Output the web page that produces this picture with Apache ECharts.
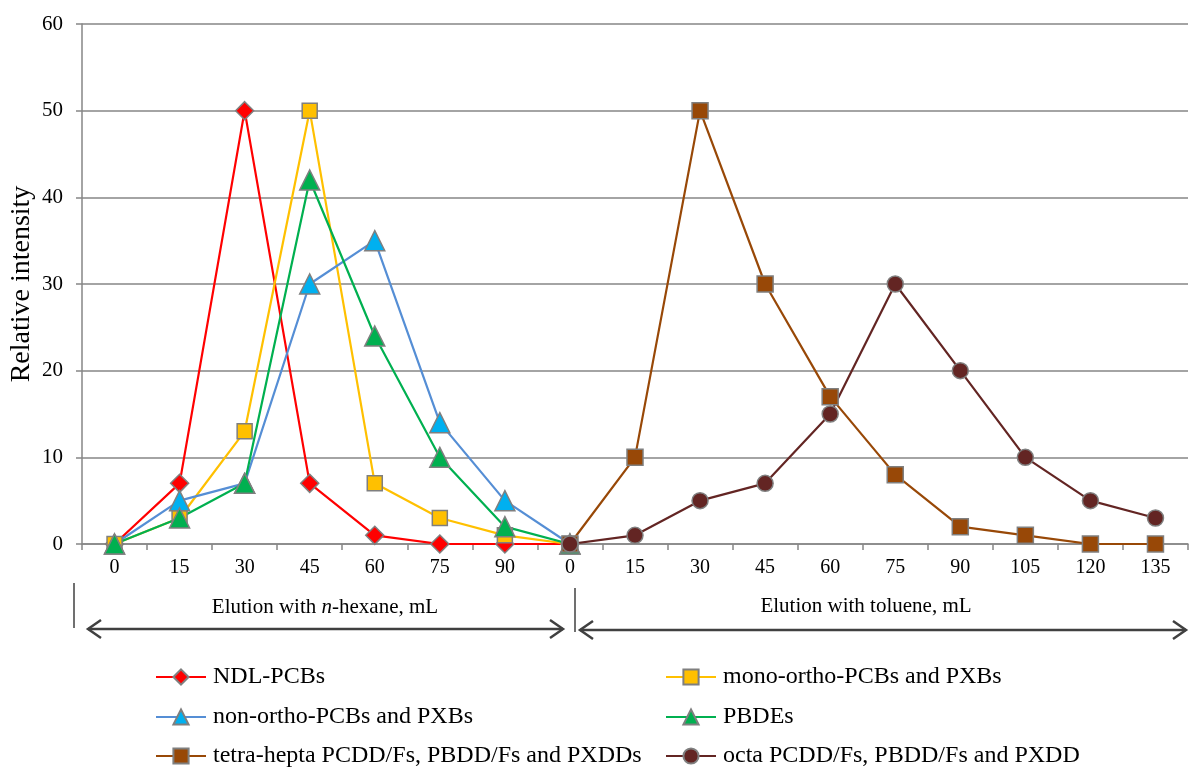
<!DOCTYPE html>
<html>
<head>
<meta charset="utf-8">
<script src="https://cdn.jsdelivr.net/npm/echarts@6/dist/echarts.min.js"></script>
<style>html,body{margin:0;padding:0;background:#fff;}#c{width:1189px;height:767px;}</style>
</head>
<body>
<div id="c"></div>
<script>
var categories = ['0','15','30','45','60','75','90','0','15','30','45','60','75','90','105','120','135'];
var ndlPCBs     = [0, 7, 50, 7, 1, 0, 0, 0, null, null, null, null, null, null, null, null, null];
var monoOrtho   = [0, 3, 13, 50, 7, 3, 1, 0, null, null, null, null, null, null, null, null, null];
var nonOrtho    = [0, 5, 7, 30, 35, 14, 5, 0, null, null, null, null, null, null, null, null, null];
var pbdes       = [0, 3, 7, 42, 24, 10, 2, 0, null, null, null, null, null, null, null, null, null];
var tetraHepta  = [null, null, null, null, null, null, null, 0, 10, 50, 30, 17, 8, 2, 1, 0, 0];
var octa        = [null, null, null, null, null, null, null, 0, 1, 5, 7, 15, 30, 20, 10, 5, 3];
var yTicks = {min: 0, max: 60, interval: 10};
var seriesNames = ['NDL-PCBs', 'mono-ortho-PCBs and PXBs', 'non-ortho-PCBs and PXBs', 'PBDEs',
                   'tetra-hepta PCDD/Fs, PBDD/Fs and PXDDs', 'octa PCDD/Fs, PBDD/Fs and PXDD'];

var chart = echarts.init(document.getElementById('c'));
var FONT = '"Liberation Serif", "DejaVu Serif", serif';
var GREY = '#868686';
var border = {borderColor: '#7f7f7f', borderWidth: 1.5};

function mk(name, data, lineColor, fill, symbol, size) {
  return {
    name: name, type: 'line', data: data, symbol: symbol, symbolSize: size,
    showAllSymbol: true, connectNulls: false,
    lineStyle: {color: lineColor, width: 2.2},
    itemStyle: Object.assign({color: fill}, border),
    emphasis: {disabled: true}
  };
}

// legend layout: [name, left, top]
var legendPos = [
  [seriesNames[0], 155, 665], [seriesNames[2], 155, 705], [seriesNames[4], 155, 744],
  [seriesNames[1], 665, 665], [seriesNames[3], 665, 705], [seriesNames[5], 665, 744]
];
var legends = legendPos.map(function (p) {
  return {
    orient: 'horizontal', left: p[1], top: p[2], padding: 0,
    itemWidth: 50, itemHeight: 19, itemGap: 0,
    textStyle: {fontFamily: FONT, fontSize: 24, color: '#000', padding: [0, 0, 0, 2]},
    data: [p[0]]
  };
});

var option = {
  animation: false,
  backgroundColor: '#fff',
  grid: {left: 82, right: 1, top: 24, bottom: 223, outerBoundsMode: 'none', containLabel: false},
  xAxis: {
    type: 'category', data: categories, boundaryGap: true,
    axisLine: {lineStyle: {color: GREY, width: 1.5}},
    axisTick: {show: true, length: 6, lineStyle: {color: GREY, width: 1.5}},
    axisLabel: {fontFamily: FONT, fontSize: 20, color: '#000', margin: 14, interval: 0}
  },
  yAxis: {
    type: 'value', min: yTicks.min, max: yTicks.max, interval: yTicks.interval,
    name: 'Relative intensity', nameLocation: 'middle', nameGap: 46, nameMoveOverlap: false,
    nameTextStyle: {fontFamily: FONT, fontSize: 28, color: '#000'},
    axisLine: {show: true, lineStyle: {color: GREY, width: 1.5}},
    axisTick: {show: true, length: 6, lineStyle: {color: GREY, width: 1.5}},
    axisLabel: {fontFamily: FONT, fontSize: 21, color: '#000', margin: 19},
    splitLine: {lineStyle: {color: GREY, width: 1.5}}
  },
  legend: legends,
  series: [
    mk(seriesNames[0], ndlPCBs, '#FF0000', '#FF0000', 'diamond', 18),
    mk(seriesNames[1], monoOrtho, '#FFC000', '#FFC000', 'rect', 15),
    mk(seriesNames[2], nonOrtho, '#558ED5', '#00B0F0', 'triangle', 20),
    mk(seriesNames[3], pbdes, '#00B050', '#00B050', 'triangle', 20),
    mk(seriesNames[4], tetraHepta, '#984807', '#984807', 'rect', 16),
    mk(seriesNames[5], octa, '#632523', '#632523', 'circle', 16)
  ],
  graphic: [
    {type: 'line', shape: {x1: 74, y1: 583, x2: 74, y2: 628}, style: {stroke: '#404040', lineWidth: 1.5}},
    {type: 'line', shape: {x1: 575, y1: 588, x2: 575, y2: 632}, style: {stroke: '#404040', lineWidth: 1.5}},
    {type: 'line', shape: {x1: 88, y1: 629, x2: 563, y2: 629}, style: {stroke: '#404040', lineWidth: 2.5}},
    {type: 'polyline', shape: {points: [[101, 620], [88, 629], [101, 638]]}, style: {stroke: '#404040', lineWidth: 2.5, fill: null}},
    {type: 'polyline', shape: {points: [[550, 620], [563, 629], [550, 638]]}, style: {stroke: '#404040', lineWidth: 2.5, fill: null}},
    {type: 'line', shape: {x1: 580, y1: 630, x2: 1186, y2: 630}, style: {stroke: '#404040', lineWidth: 2.5}},
    {type: 'polyline', shape: {points: [[593, 621], [580, 630], [593, 639]]}, style: {stroke: '#404040', lineWidth: 2.5, fill: null}},
    {type: 'polyline', shape: {points: [[1173, 621], [1186, 630], [1173, 639]]}, style: {stroke: '#404040', lineWidth: 2.5, fill: null}},
    {type: 'text', x: 325, y: 607, style: {text: '{a|Elution with }{i|n}{a|-hexane, mL}', align: 'center', verticalAlign: 'middle',
      rich: {a: {fontFamily: FONT, fontSize: 21, fill: '#000'}, i: {fontFamily: FONT, fontSize: 21, fontStyle: 'italic', fill: '#000'}}}},
    {type: 'text', x: 866, y: 606, style: {text: 'Elution with toluene, mL', align: 'center', verticalAlign: 'middle',
      fontFamily: FONT, fontSize: 21, fill: '#000'}}
  ]
};
chart.setOption(option);
</script>
</body>
</html>
